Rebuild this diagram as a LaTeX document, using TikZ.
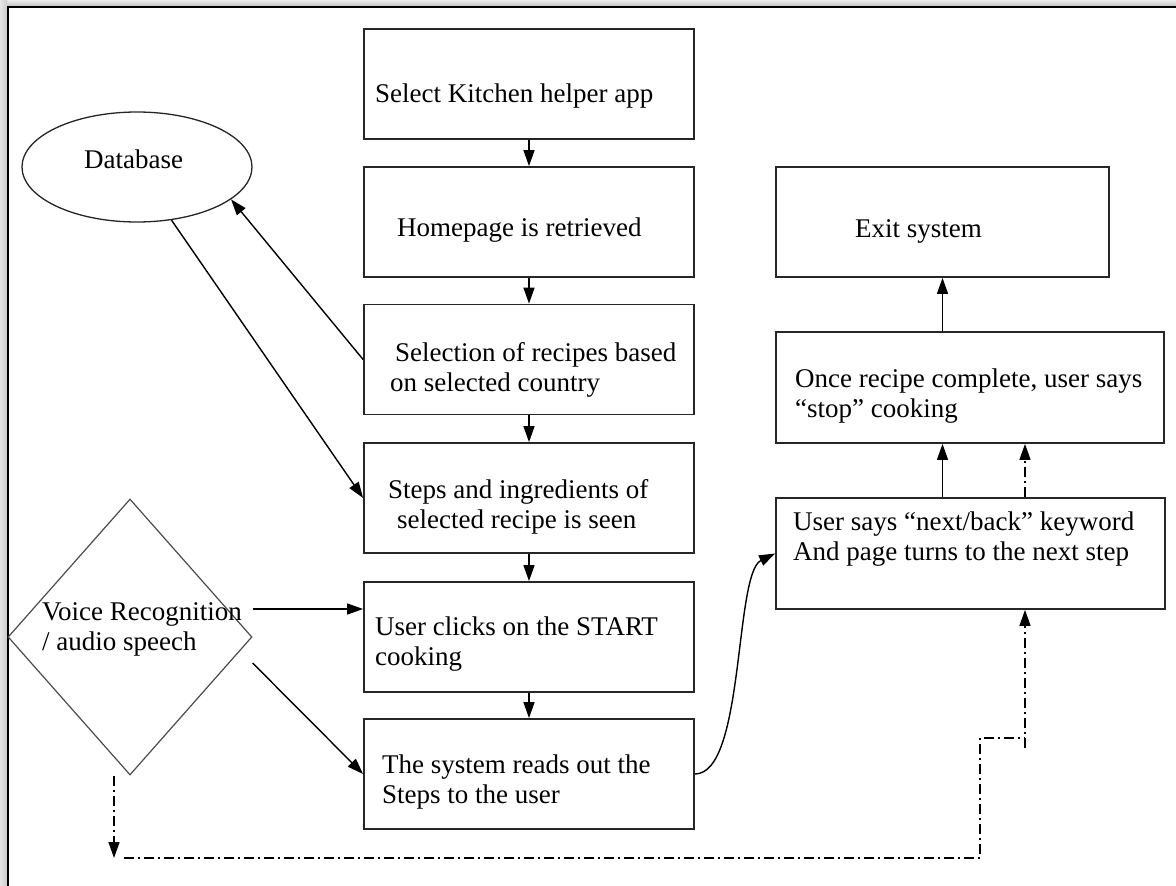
\documentclass[tikz,border=0pt]{standalone}
\usepackage{fontspec}
\setmainfont{Liberation Serif}
\usetikzlibrary{arrows.meta,shapes.geometric}

\begin{document}
\begin{tikzpicture}[x=1pt,y=-1pt,
  box/.style={draw=black!85,line width=1.8pt,minimum width=330pt,minimum height=110pt,inner sep=0pt},
  txt/.style={anchor=north west,inner sep=0pt,align=left,font=\fontsize{27}{30}\selectfont,execute at begin node=\strut},
  tip/.style={-{Triangle[length=16pt,width=11pt]}},
  arr/.style={line width=1.4pt,tip},
  dd/.style={line width=1.4pt,dash pattern=on 10pt off 4pt on 2pt off 4pt},
]
\useasboundingbox (0,0) rectangle (1176,886);
\fill[white] (0,0) rectangle (1176,886);

% page shadow and frame edges
\shade[top color=gray!15,bottom color=gray!45] (0,0) rectangle (1176,6);
\shade[left color=gray!20,right color=gray!40] (0,0) rectangle (7,886);
\draw[line width=2.5pt,black] (8,886) -- (8,7) -- (1176,7);

% central column of steps
\node[box] (b1) at (529,84) {};
\node[box] (b2) at (529,222) {};
\node[box] (b3) at (529,359.5) {};
\node[box] (b4) at (529,498) {};
\node[box] (b5) at (529,637) {};
\node[box] (b6) at (529,774) {};

% right column
\node[box,minimum width=333pt] (eb) at (942.5,222) {};
\node[box,minimum width=388pt,minimum height=111pt] (ob) at (970,387.5) {};
\node[box,minimum width=389pt,minimum height=111pt] (ub) at (970.5,553.5) {};

% database and voice input
\node[ellipse,draw=black!85,line width=1.3pt,minimum width=230pt,minimum height=110pt,inner sep=0pt] (db) at (137,167) {};
\node[diamond,draw=black!70,line width=1.2pt,minimum width=244pt,minimum height=276pt,inner sep=0pt] (vr) at (130,637) {};

% texts
\node[txt] (t1) at (375,81) {Select Kitchen helper app};
\node[txt] (t2) at (397,215) {Homepage is retrieved};
\node[txt] (t3) at (395,342) {Selection of recipes based\\\hspace*{-5pt}on selected country};
\node[txt] (t4) at (388,479) {Steps and ingredients of\\\hspace*{9pt}selected recipe is seen};
\node[txt] (t5) at (375,617) {User clicks on the START\\cooking};
\node[txt] (t6) at (382,755) {The system reads out the\\Steps to the user};
\node[txt] (t7) at (855,216) {Exit system};
\node[txt] (t8) at (795,369) {Once recipe complete, user says\\“stop” cooking};
\node[txt] (t9) at (793,512) {User says “next/back” keyword\\And page turns to the next step};
\node[txt] (t10) at (84,147) {Database};
\node[txt] (t11) at (42,602) {Voice Recognition\\/ audio speech};

% flow down the central column
\draw[arr] (b1.south) -- (b2.north);
\draw[arr] (b2.south) -- (b3.north);
\draw[arr] (b3.south) -- (b4.north);
\draw[arr] (b4.south) -- (b5.north);
\draw[arr] (b5.south) -- (b6.north);

% database links
\draw[arr] (b3.west) -- (db.-19);
\draw[arr] (db.-57) -- (b4.west);

% voice input links
\draw[arr] ([yshift=28pt]vr.east) -- ([yshift=28pt]b5.west);
\draw[arr] ([yshift=-26pt]vr.east) -- (b6.west);

% reading out leads to the voice commands
\draw[arr] (b6.east) .. controls +(50,0) and +(-41,20) .. (ub.west);

% right column flow
\coordinate (dc) at (1025,0);
\draw[arr] (ub.north -| eb.south) -- (ob.south -| eb.south);
\draw[dd,tip] (ub.north -| dc) -- (ob.south -| dc);
\draw[arr] (ob.north -| eb.south) -- (eb.south);

% dash-dotted voice path
\coordinate (vdown) at (114,858);
\coordinate (h0) at (124,858);
\coordinate (h1) at (980,858);
\coordinate (h2) at (980,738);
\coordinate (h3) at (1025,738);
\coordinate (h4) at (1025,748);
\draw[dd,tip] ([xshift=-16pt]vr.south) -- (vdown);
\draw[dd] (h0) -- (h1) -- (h2) -- (h3);
\draw[dd,tip] (h4) -- (ub.south -| h4);
\end{tikzpicture}
\end{document}
